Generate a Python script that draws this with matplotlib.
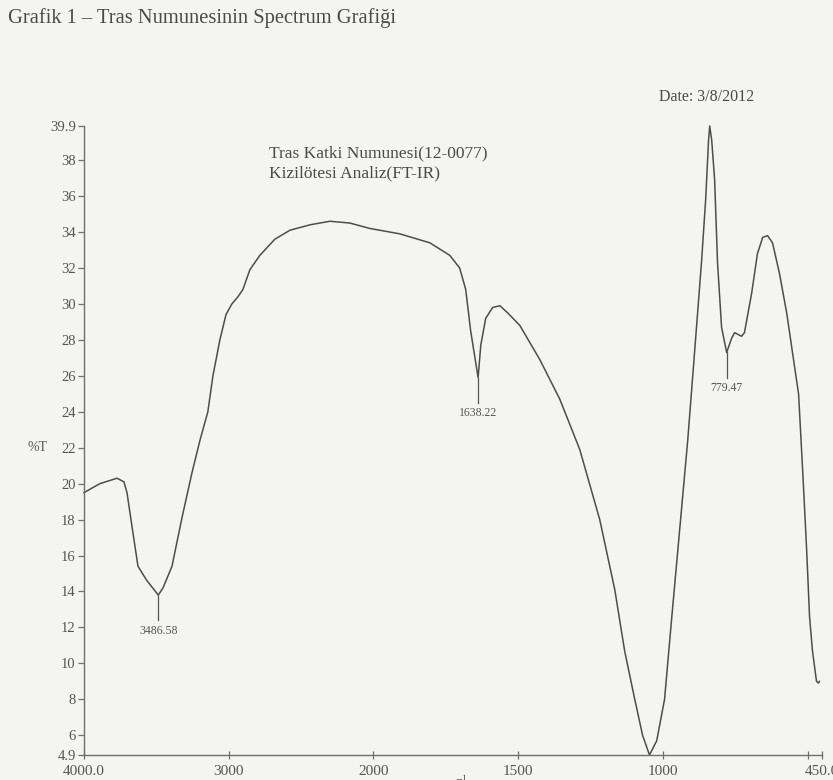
import numpy as np
import matplotlib
matplotlib.use("Agg")
import matplotlib.pyplot as plt

# FT-IR spectrum of the tras sample, %T against wavenumber (cm-1)
wavenumber = [4000, 3890, 3772, 3724, 3703, 3668, 3627, 3565, 3486.58, 3454,
              3392, 3323, 3254, 3199, 3144, 3109, 3061, 3019, 2978, 2936,
              2902, 2854, 2785, 2681, 2577, 2439, 2301, 2163, 2025, 1909,
              1805, 1736, 1702, 1681, 1664, 1638.22, 1629, 1612, 1588, 1563,
              1536, 1494, 1425, 1356, 1287, 1218, 1166, 1132, 1097, 1070,
              1046, 1021, 994, 970, 942, 914, 887, 866, 852, 842,
              838, 831, 821, 811, 797, 779.47, 762, 752, 728, 718,
              693, 673, 655, 638, 621, 597, 572, 552, 531, 517,
              503, 493, 483, 469, 462, 459]
transmittance = [19.5, 20.0, 20.3, 20.1, 19.5, 17.6, 15.4, 14.6, 13.8, 14.2,
                 15.4, 18.1, 20.6, 22.4, 24.0, 26.0, 28.0, 29.4, 30.0, 30.4,
                 30.8, 31.9, 32.7, 33.6, 34.1, 34.4, 34.6, 34.5, 34.2, 33.9,
                 33.4, 32.7, 32.0, 30.8, 28.5, 25.9, 27.7, 29.2, 29.8, 29.9,
                 29.5, 28.8, 26.9, 24.7, 21.9, 18.0, 14.1, 10.7, 8.0, 6.0,
                 4.9, 5.7, 8.0, 12.4, 17.4, 22.4, 28.0, 32.4, 35.8, 39.1,
                 39.9, 39.1, 36.9, 32.3, 28.7, 27.3, 28.1, 28.4, 28.2, 28.4,
                 30.6, 32.8, 33.7, 33.8, 33.4, 31.7, 29.5, 27.3, 25.0, 20.8,
                 16.3, 12.6, 10.7, 9.0, 8.9, 9.0]
assert len(wavenumber) == len(transmittance)

# labelled absorption bands
peak_wn = [3486.58, 1638.22, 779.47]
peak_t = [13.8, 25.9, 27.3]
peak_labels = ["3486.58", "1638.22", "779.47"]

xticks = [4000, 3000, 2000, 1500, 1000, 500, 450]
xticklabels = ["4000.0", "3000", "2000", "1500", "1000", "", "450.0"]
yticks = [4.9, 6, 8, 10, 12, 14, 16, 18, 20, 22, 24, 26, 28, 30, 32, 34, 36, 38, 39.9]
yticklabels = ["4.9", "6", "8", "10", "12", "14", "16", "18", "20", "22", "24",
               "26", "28", "30", "32", "34", "36", "38", "39.9"]

BG = "#f4f4f2"
INK = "#4a4a4a"
GREY = "#555555"
plt.rcParams["font.family"] = ["Liberation Serif", "DejaVu Serif"]
plt.rcParams["mathtext.fontset"] = "stix"


# instrument axis: 4000-2000 at one scale, below 2000 stretched x2
def fwd(w):
    w = np.asarray(w, dtype=float)
    return np.where(w >= 2000, w, 2 * w - 2000)


def inv(v):
    v = np.asarray(v, dtype=float)
    return np.where(v >= 2000, v, (v + 2000) / 2)


fig = plt.figure(figsize=(8.33, 7.8), dpi=100, facecolor=BG)
ax = fig.add_axes([84 / 833, 1 - 755 / 780, (822 - 84) / 833, (755 - 126) / 780])
ax.set_facecolor(BG)
ax.set_xscale("function", functions=(fwd, inv))
ax.set_xlim(4000, 450)
ax.set_ylim(4.9, 39.9)

ax.plot(wavenumber, transmittance, color="#4d4d4d", lw=1.1, clip_on=False,
        solid_joinstyle="round")

for wn, t, lab in zip(peak_wn, peak_t, peak_labels):
    ax.plot([wn, wn], [t, t - 1.4], color=GREY, lw=0.9)
    ax.text(wn, t - 1.65, lab, ha="center", va="top", fontsize=8.5, color=GREY)

for s in ("top", "right"):
    ax.spines[s].set_visible(False)
for s in ("left", "bottom"):
    ax.spines[s].set_color("#6e6e6e")
    ax.spines[s].set_linewidth(1.0)

ax.set_xticks(xticks)
ax.set_xticklabels(xticklabels)
ax.set_yticks(yticks)
ax.set_yticklabels(yticklabels)
ax.minorticks_off()
ax.tick_params(axis="x", direction="inout", length=6, width=0.9, colors="#6e6e6e",
               labelcolor=GREY, labelsize=11, pad=4)
ax.tick_params(axis="y", direction="out", length=4, width=0.9, colors="#6e6e6e",
               labelcolor=GREY, labelsize=10.5, pad=2)

fig.text(38 / 833, 1 - 448 / 780, "%T", ha="center", va="center", fontsize=10,
         color=GREY)
fig.text(453 / 833, 1 - 775 / 780, r"cm$^{-1}$", ha="center", va="top", fontsize=10,
         color=GREY)

fig.text(8 / 833, 1 - 18 / 780, "Grafik 1 – Tras Numunesinin Spectrum Grafiği",
         ha="left", va="center", fontsize=14.8, color=INK)
fig.text(707 / 833, 1 - 97 / 780, "Date: 3/8/2012", ha="center", va="center",
         fontsize=11.5, color=INK)
fig.text(269 / 833, 1 - 153 / 780, "Tras Katki Numunesi(12-0077)", ha="left",
         va="center", fontsize=12.5, color=INK)
fig.text(269 / 833, 1 - 173 / 780, "Kizilötesi Analiz(FT-IR)", ha="left",
         va="center", fontsize=12.5, color=INK)

fig.savefig("out.png", dpi=100, facecolor=BG)
